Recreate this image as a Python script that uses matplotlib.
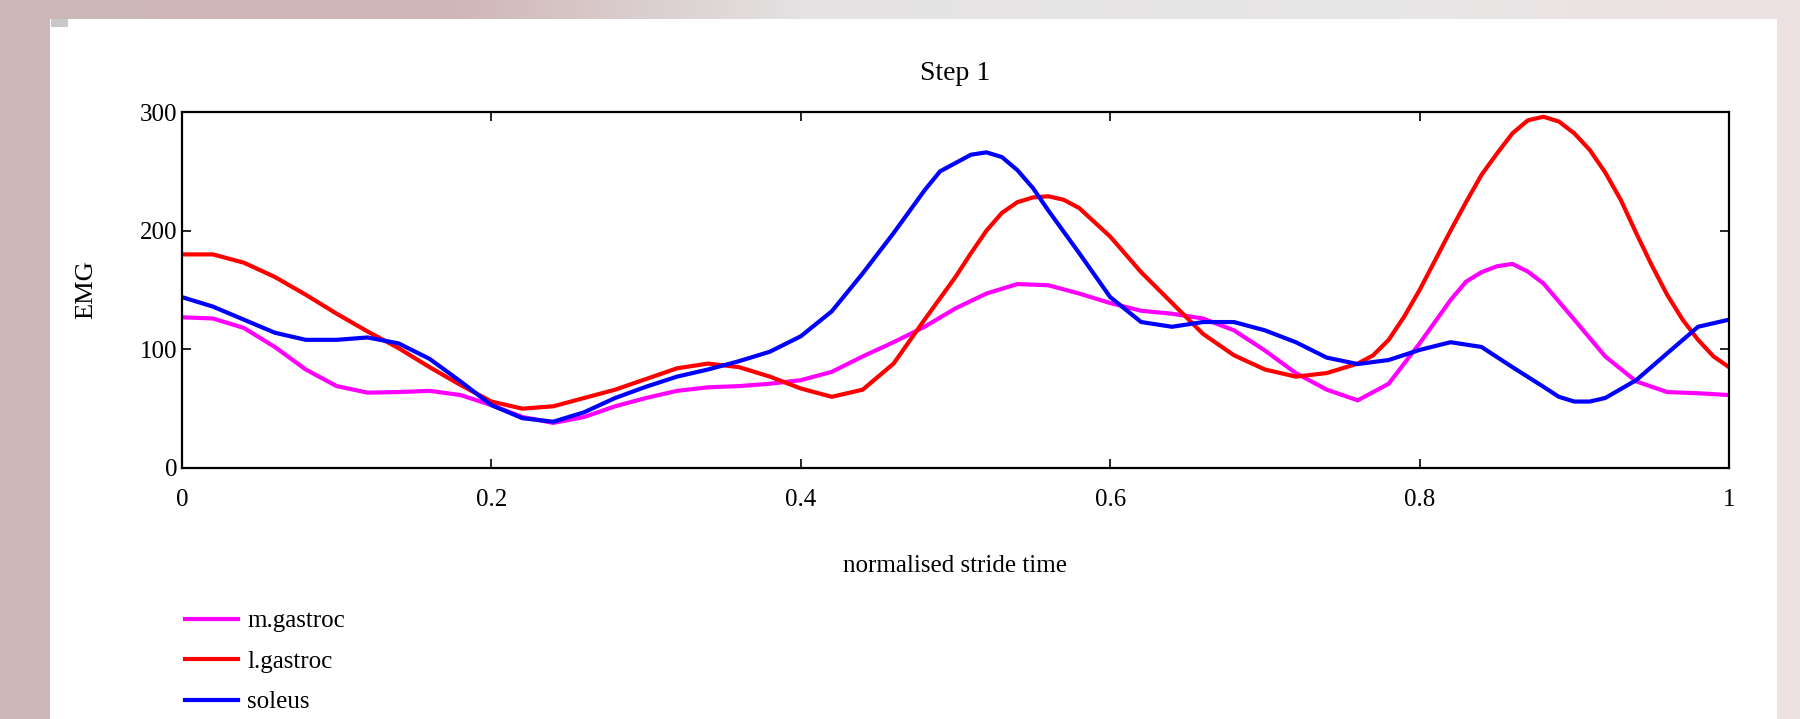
import numpy as np
import matplotlib
matplotlib.use('Agg')
import matplotlib.pyplot as plt
from matplotlib.patches import Rectangle

plt.rcParams['font.family'] = ['Liberation Serif', 'DejaVu Serif']

# normalised stride time (sample grid)
stride = [0.00, 0.02, 0.04, 0.06, 0.08, 0.10, 0.12, 0.14, 0.16, 0.18,
          0.20, 0.22, 0.24, 0.26, 0.28, 0.30, 0.32, 0.34, 0.36, 0.38,
          0.40, 0.42, 0.44, 0.46, 0.48, 0.50, 0.52, 0.54, 0.56, 0.58,
          0.60, 0.62, 0.64, 0.66, 0.68, 0.70, 0.72, 0.74, 0.76, 0.78,
          0.80, 0.82, 0.84, 0.86, 0.88, 0.90, 0.92, 0.94, 0.96, 0.98, 1.00]

m_gastroc = [127, 126, 118, 102, 83, 69, 63.5, 64, 65, 61.5,
             53, 43, 38, 43, 52, 59, 65, 68, 69, 71,
             74, 81, 94, 106, 119, 134.5, 147, 155, 154, 147,
             139, 132.5, 130, 126, 116, 99, 80, 66, 57, 71,
             105, 141.5, 165, 172, 155.6, 125, 94, 73, 64, 63, 61.5]

l_gastroc = [180, 180, 173, 161, 146, 130, 115, 101, 85, 70,
             56, 50, 52, 59, 66, 75, 84, 88, 85, 77,
             67, 60, 66, 88, 125, 161, 200, 224, 229, 219,
             195, 165, 139, 113, 95, 83, 77, 80, 88, 108,
             150, 200, 247, 282, 296, 282, 249, 198, 146, 108, 85]

soleus = [144, 136, 125, 114, 108, 108, 110, 105, 92, 73,
          53, 42, 39, 47, 59, 68.5, 77, 83, 90, 98,
          111, 132, 164, 198, 234, 257, 266, 251, 217, 181,
          144, 123, 119, 123, 123, 116, 106, 93, 87.6, 91,
          99.5, 106, 102, 85, 68.5, 56, 59, 74, 96.6, 119, 125]

# extra readings around the peaks
m_extra_t = [0.83, 0.85, 0.87]
m_extra_v = [157, 170, 165.5]
l_extra_t = [0.51, 0.53, 0.55, 0.57, 0.77, 0.79, 0.81, 0.83, 0.85, 0.87,
             0.89, 0.91, 0.93, 0.95, 0.97, 0.99]
l_extra_v = [181, 215, 228, 226, 95, 127.5, 175, 224, 265, 293,
             292, 268, 226, 171, 125, 94]
s_extra_t = [0.49, 0.51, 0.53, 0.55, 0.89, 0.91]
s_extra_v = [250, 264, 262, 236, 60, 56]


def merged(t, v, et, ev):
    tt = np.array(t + et)
    vv = np.array(v + ev)
    order = np.argsort(tt)
    return tt[order], vv[order]


W, H = 1800, 719
fig = plt.figure(figsize=(18, 7.19), dpi=100)

# slide background behind the white panel
bg = fig.add_axes([0, 0, 1, 1], zorder=-10)
stops_x = [0, 450, 800, 1400, 1800]
stops_c = np.array([[205, 183, 184], [208, 182, 183], [228, 226, 226],
                    [232, 231, 231], [238, 224, 225]]) / 255.0
cols = np.arange(W)
grad = np.stack([np.interp(cols, stops_x, stops_c[:, k]) for k in range(3)], axis=-1)
bg.imshow(grad[np.newaxis, :, :], extent=[0, W, H, 0], aspect='auto')
bg.add_patch(Rectangle((50, 19), 1727, 700, facecolor='white', edgecolor='none'))
bg.add_patch(Rectangle((51, 19), 17, 8, facecolor='#c8c8c8', edgecolor='none'))
bg.set_xlim(0, W)
bg.set_ylim(H, 0)
bg.axis('off')

ax = fig.add_axes([182 / W, 1 - 468 / H, (1729 - 182) / W, (468 - 112) / H])
t, v = merged(stride, m_gastroc, m_extra_t, m_extra_v)
ax.plot(t, v, color='#ff00ff', lw=3, label='m.gastroc', solid_joinstyle='round')
t, v = merged(stride, l_gastroc, l_extra_t, l_extra_v)
ax.plot(t, v, color='#ff0000', lw=3, label='l.gastroc', solid_joinstyle='round')
t, v = merged(stride, soleus, s_extra_t, s_extra_v)
ax.plot(t, v, color='#0000ff', lw=3, label='soleus', solid_joinstyle='round')

ax.set_xlim(0, 1)
ax.set_ylim(0, 300)
ax.set_xticks([0, 0.2, 0.4, 0.6, 0.8, 1])
ax.set_xticklabels(['0', '0.2', '0.4', '0.6', '0.8', '1'])
ax.set_yticks([0, 100, 200, 300])
ax.tick_params(axis='both', direction='in', top=True, right=True,
               length=6.5, width=1.2, labelsize=18, colors='black')
ax.tick_params(axis='x', pad=15)
ax.tick_params(axis='y', pad=3.5)
for s in ax.spines.values():
    s.set_linewidth(1.6)

fig.text(955 / W, 1 - 74 / H, 'Step 1', ha='center', va='center', fontsize=20)
fig.text(955 / W, 1 - 566 / H, 'normalised stride time', ha='center', va='center', fontsize=18)
fig.text(86 / W, 1 - 290 / H, 'EMG', ha='center', va='center', rotation=90, fontsize=19)

fig.legend(loc='upper left', bbox_to_anchor=(185 / W, 1 - 610 / H), frameon=False,
           fontsize=18, handlelength=2.1, handletextpad=0.4, labelspacing=0.72,
           borderpad=0, borderaxespad=0)

fig.savefig('out.png', dpi=100)
